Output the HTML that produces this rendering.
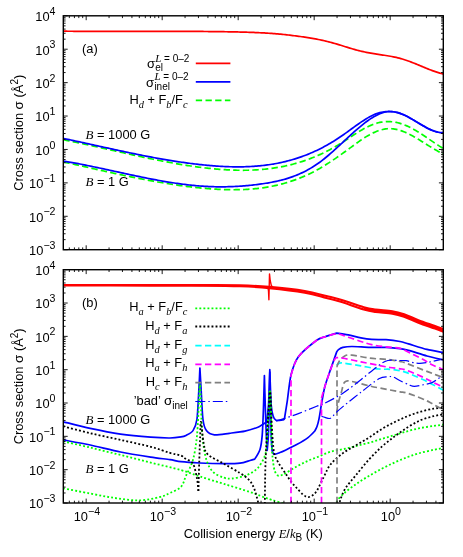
<!DOCTYPE html>
<html><head><meta charset="utf-8"><title>Cross sections</title>
<style>
html,body{margin:0;padding:0;background:#fff;}
body{width:463px;height:557px;overflow:hidden;font-family:"Liberation Sans",sans-serif;}
svg{display:block;will-change:transform;}
text{font-family:"Liberation Sans",sans-serif;fill:#000;}
.it{font-family:"Liberation Serif",serif;font-style:italic;}
.c{fill:none;stroke-linejoin:round;stroke-linecap:butt;}
</style></head><body>
<svg width="463" height="557" viewBox="0 0 463 557">
<rect x="0" y="0" width="463" height="557" fill="#fff"/>
<defs>
<clipPath id="ca"><rect x="63.3" y="15.8" width="380" height="233.9"/></clipPath>
<clipPath id="cb"><rect x="63.3" y="269.7" width="380" height="233.3"/></clipPath>
</defs>

<g clip-path="url(#ca)">
<path class="c" d="M63.3 139.74 L64.8 140.03 L66.3 140.33 L67.8 140.63 L69.3 140.93 L70.8 141.24 L72.3 141.55 L73.8 141.86 L75.3 142.17 L76.8 142.48 L78.3 142.8 L79.8 143.12 L81.3 143.44 L82.8 143.76 L84.3 144.08 L85.8 144.41 L87.3 144.74 L88.8 145.06 L90.3 145.39 L91.8 145.72 L93.3 146.05 L94.8 146.39 L96.3 146.72 L97.8 147.05 L99.3 147.39 L100.8 147.73 L102.3 148.06 L103.8 148.4 L105.3 148.74 L106.8 149.08 L108.3 149.41 L109.8 149.75 L111.3 150.09 L112.8 150.43 L114.3 150.77 L115.8 151.11 L117.3 151.44 L118.8 151.78 L120.3 152.12 L121.8 152.46 L123.3 152.79 L124.8 153.13 L126.3 153.47 L127.8 153.8 L129.3 154.13 L130.8 154.47 L132.3 154.8 L133.8 155.13 L135.3 155.46 L136.8 155.78 L138.3 156.11 L139.8 156.44 L141.3 156.76 L142.8 157.08 L144.3 157.4 L145.8 157.72 L147.3 158.03 L148.8 158.35 L150.3 158.66 L151.8 158.97 L153.3 159.28 L154.8 159.58 L156.3 159.89 L157.8 160.19 L159.3 160.48 L160.8 160.78 L162.3 161.07 L163.8 161.36 L165.3 161.65 L166.8 161.93 L168.3 162.21 L169.8 162.49 L171.3 162.76 L172.8 163.03 L174.3 163.3 L175.8 163.56 L177.3 163.82 L178.8 164.08 L180.3 164.33 L181.8 164.58 L183.3 164.83 L184.8 165.07 L186.3 165.3 L187.8 165.54 L189.3 165.77 L190.8 165.99 L192.3 166.21 L193.8 166.42 L195.3 166.63 L196.8 166.84 L198.3 167.04 L199.8 167.24 L201.3 167.43 L202.8 167.61 L204.3 167.79 L205.8 167.97 L207.3 168.14 L208.8 168.3 L210.3 168.46 L211.8 168.62 L213.3 168.76 L214.8 168.91 L216.3 169.04 L217.8 169.17 L219.3 169.3 L220.8 169.41 L222.3 169.52 L223.8 169.63 L225.3 169.72 L226.8 169.81 L228.3 169.9 L229.8 169.97 L231.3 170.04 L232.8 170.1 L234.3 170.15 L235.8 170.19 L237.3 170.23 L238.8 170.25 L240.3 170.27 L241.8 170.28 L243.3 170.28 L244.8 170.27 L246.3 170.25 L247.8 170.23 L249.3 170.19 L250.8 170.14 L252.3 170.08 L253.8 170.02 L255.3 169.94 L256.8 169.85 L258.3 169.75 L259.8 169.64 L261.3 169.52 L262.8 169.39 L264.3 169.25 L265.8 169.1 L267.3 168.93 L268.8 168.76 L270.3 168.57 L271.8 168.37 L273.3 168.15 L274.8 167.93 L276.3 167.69 L277.8 167.44 L279.3 167.18 L280.8 166.9 L282.3 166.61 L283.8 166.31 L285.3 165.99 L286.8 165.66 L288.3 165.32 L289.8 164.96 L291.3 164.59 L292.8 164.21 L294.3 163.8 L295.8 163.39 L297.3 162.96 L298.8 162.51 L300.3 162.05 L301.8 161.58 L303.3 161.09 L304.8 160.58 L306.3 160.06 L307.8 159.52 L309.3 158.97 L310.8 158.4 L312.3 157.81 L313.8 157.21 L315.3 156.59 L316.8 155.95 L318.3 155.3 L319.8 154.63 L321.3 153.94 L322.8 153.23 L324.3 152.51 L325.8 151.77 L327.3 151.01 L328.8 150.23 L330.3 149.43 L331.8 148.62 L333.3 147.79 L334.8 146.93 L336.3 146.06 L337.8 145.17 L339.3 144.26 L340.8 143.33 L342.3 142.39 L343.8 141.42 L345.3 140.45 L346.8 139.47 L348.3 138.49 L349.8 137.5 L351.3 136.51 L352.8 135.53 L354.3 134.56 L355.8 133.6 L357.3 132.65 L358.8 131.73 L360.3 130.82 L361.8 129.94 L363.3 129.09 L364.8 128.26 L366.3 127.47 L367.8 126.72 L369.3 126.01 L370.8 125.35 L372.3 124.73 L373.8 124.16 L375.3 123.65 L376.8 123.19 L378.3 122.79 L379.8 122.45 L381.3 122.17 L382.8 121.94 L384.3 121.77 L385.8 121.66 L387.3 121.6 L388.8 121.6 L390.3 121.65 L391.8 121.76 L393.3 121.93 L394.8 122.15 L396.3 122.43 L397.8 122.76 L399.3 123.15 L400.8 123.59 L402.3 124.08 L403.8 124.63 L405.3 125.23 L406.8 125.87 L408.3 126.56 L409.8 127.3 L411.3 128.07 L412.8 128.87 L414.3 129.71 L415.8 130.59 L417.3 131.48 L418.8 132.41 L420.3 133.35 L421.8 134.32 L423.3 135.3 L424.8 136.29 L426.3 137.29 L427.8 138.31 L429.3 139.32 L430.8 140.34 L432.3 141.36 L433.8 142.37 L435.3 143.38 L436.8 144.38 L438.3 145.37 L439.8 146.34 L441.3 147.29 L442.8 148.22 L443.3 148.53" stroke="#00ff00" stroke-width="1.7" stroke-dasharray="6.4 3.2"/>
<path class="c" d="M63.3 161.93 L64.8 162.26 L66.3 162.59 L67.8 162.92 L69.3 163.25 L70.8 163.59 L72.3 163.92 L73.8 164.25 L75.3 164.59 L76.8 164.93 L78.3 165.26 L79.8 165.6 L81.3 165.94 L82.8 166.27 L84.3 166.61 L85.8 166.95 L87.3 167.29 L88.8 167.62 L90.3 167.96 L91.8 168.3 L93.3 168.64 L94.8 168.97 L96.3 169.31 L97.8 169.65 L99.3 169.98 L100.8 170.32 L102.3 170.65 L103.8 170.99 L105.3 171.32 L106.8 171.65 L108.3 171.98 L109.8 172.31 L111.3 172.64 L112.8 172.97 L114.3 173.3 L115.8 173.63 L117.3 173.95 L118.8 174.28 L120.3 174.6 L121.8 174.92 L123.3 175.24 L124.8 175.56 L126.3 175.87 L127.8 176.19 L129.3 176.5 L130.8 176.81 L132.3 177.12 L133.8 177.42 L135.3 177.73 L136.8 178.03 L138.3 178.33 L139.8 178.63 L141.3 178.92 L142.8 179.22 L144.3 179.51 L145.8 179.79 L147.3 180.08 L148.8 180.36 L150.3 180.64 L151.8 180.92 L153.3 181.19 L154.8 181.46 L156.3 181.73 L157.8 182 L159.3 182.26 L160.8 182.52 L162.3 182.77 L163.8 183.02 L165.3 183.27 L166.8 183.52 L168.3 183.76 L169.8 184 L171.3 184.23 L172.8 184.46 L174.3 184.69 L175.8 184.91 L177.3 185.13 L178.8 185.34 L180.3 185.55 L181.8 185.76 L183.3 185.96 L184.8 186.16 L186.3 186.35 L187.8 186.54 L189.3 186.73 L190.8 186.91 L192.3 187.08 L193.8 187.25 L195.3 187.42 L196.8 187.58 L198.3 187.74 L199.8 187.89 L201.3 188.03 L202.8 188.17 L204.3 188.31 L205.8 188.44 L207.3 188.56 L208.8 188.68 L210.3 188.8 L211.8 188.91 L213.3 189.01 L214.8 189.11 L216.3 189.2 L217.8 189.28 L219.3 189.36 L220.8 189.43 L222.3 189.5 L223.8 189.55 L225.3 189.6 L226.8 189.64 L228.3 189.68 L229.8 189.71 L231.3 189.72 L232.8 189.73 L234.3 189.73 L235.8 189.72 L237.3 189.71 L238.8 189.68 L240.3 189.64 L241.8 189.6 L243.3 189.54 L244.8 189.48 L246.3 189.4 L247.8 189.31 L249.3 189.21 L250.8 189.1 L252.3 188.98 L253.8 188.85 L255.3 188.71 L256.8 188.55 L258.3 188.38 L259.8 188.2 L261.3 188.01 L262.8 187.81 L264.3 187.59 L265.8 187.36 L267.3 187.11 L268.8 186.85 L270.3 186.58 L271.8 186.29 L273.3 185.99 L274.8 185.67 L276.3 185.34 L277.8 185 L279.3 184.64 L280.8 184.26 L282.3 183.87 L283.8 183.46 L285.3 183.04 L286.8 182.6 L288.3 182.15 L289.8 181.67 L291.3 181.18 L292.8 180.68 L294.3 180.15 L295.8 179.61 L297.3 179.05 L298.8 178.48 L300.3 177.88 L301.8 177.27 L303.3 176.64 L304.8 175.99 L306.3 175.32 L307.8 174.63 L309.3 173.92 L310.8 173.19 L312.3 172.44 L313.8 171.67 L315.3 170.88 L316.8 170.08 L318.3 169.25 L319.8 168.4 L321.3 167.52 L322.8 166.63 L324.3 165.72 L325.8 164.79 L327.3 163.84 L328.8 162.88 L330.3 161.9 L331.8 160.9 L333.3 159.9 L334.8 158.87 L336.3 157.84 L337.8 156.8 L339.3 155.74 L340.8 154.68 L342.3 153.61 L343.8 152.53 L345.3 151.45 L346.8 150.36 L348.3 149.26 L349.8 148.17 L351.3 147.07 L352.8 145.97 L354.3 144.87 L355.8 143.77 L357.3 142.69 L358.8 141.62 L360.3 140.57 L361.8 139.55 L363.3 138.55 L364.8 137.58 L366.3 136.65 L367.8 135.75 L369.3 134.9 L370.8 134.09 L372.3 133.32 L373.8 132.6 L375.3 131.93 L376.8 131.32 L378.3 130.76 L379.8 130.27 L381.3 129.83 L382.8 129.46 L384.3 129.16 L385.8 128.92 L387.3 128.76 L388.8 128.67 L390.3 128.66 L391.8 128.73 L393.3 128.87 L394.8 129.09 L396.3 129.37 L397.8 129.72 L399.3 130.13 L400.8 130.6 L402.3 131.13 L403.8 131.7 L405.3 132.33 L406.8 133 L408.3 133.71 L409.8 134.46 L411.3 135.24 L412.8 136.06 L414.3 136.9 L415.8 137.77 L417.3 138.65 L418.8 139.56 L420.3 140.48 L421.8 141.41 L423.3 142.35 L424.8 143.29 L426.3 144.24 L427.8 145.18 L429.3 146.11 L430.8 147.04 L432.3 147.95 L433.8 148.84 L435.3 149.72 L436.8 150.57 L438.3 151.4 L439.8 152.2 L441.3 152.96 L442.8 153.69 L443.3 153.92" stroke="#00ff00" stroke-width="1.7" stroke-dasharray="6.4 3.2"/>
<path class="c" d="M63.3 138.43 L64.8 138.74 L66.3 139.06 L67.8 139.37 L69.3 139.69 L70.8 140.01 L72.3 140.33 L73.8 140.65 L75.3 140.97 L76.8 141.3 L78.3 141.62 L79.8 141.95 L81.3 142.27 L82.8 142.6 L84.3 142.93 L85.8 143.26 L87.3 143.58 L88.8 143.91 L90.3 144.24 L91.8 144.57 L93.3 144.9 L94.8 145.23 L96.3 145.56 L97.8 145.89 L99.3 146.22 L100.8 146.55 L102.3 146.88 L103.8 147.21 L105.3 147.54 L106.8 147.87 L108.3 148.2 L109.8 148.53 L111.3 148.85 L112.8 149.18 L114.3 149.51 L115.8 149.83 L117.3 150.16 L118.8 150.48 L120.3 150.8 L121.8 151.12 L123.3 151.44 L124.8 151.76 L126.3 152.08 L127.8 152.39 L129.3 152.71 L130.8 153.02 L132.3 153.33 L133.8 153.64 L135.3 153.95 L136.8 154.25 L138.3 154.56 L139.8 154.86 L141.3 155.16 L142.8 155.46 L144.3 155.75 L145.8 156.05 L147.3 156.34 L148.8 156.63 L150.3 156.92 L151.8 157.2 L153.3 157.48 L154.8 157.76 L156.3 158.04 L157.8 158.31 L159.3 158.58 L160.8 158.85 L162.3 159.11 L163.8 159.37 L165.3 159.63 L166.8 159.89 L168.3 160.14 L169.8 160.39 L171.3 160.63 L172.8 160.87 L174.3 161.11 L175.8 161.35 L177.3 161.58 L178.8 161.8 L180.3 162.03 L181.8 162.25 L183.3 162.46 L184.8 162.67 L186.3 162.88 L187.8 163.08 L189.3 163.28 L190.8 163.47 L192.3 163.66 L193.8 163.85 L195.3 164.03 L196.8 164.2 L198.3 164.38 L199.8 164.54 L201.3 164.7 L202.8 164.86 L204.3 165.01 L205.8 165.16 L207.3 165.3 L208.8 165.44 L210.3 165.57 L211.8 165.7 L213.3 165.82 L214.8 165.93 L216.3 166.04 L217.8 166.14 L219.3 166.24 L220.8 166.33 L222.3 166.41 L223.8 166.49 L225.3 166.56 L226.8 166.62 L228.3 166.68 L229.8 166.73 L231.3 166.77 L232.8 166.8 L234.3 166.83 L235.8 166.84 L237.3 166.85 L238.8 166.85 L240.3 166.84 L241.8 166.82 L243.3 166.79 L244.8 166.76 L246.3 166.71 L247.8 166.65 L249.3 166.59 L250.8 166.51 L252.3 166.43 L253.8 166.33 L255.3 166.22 L256.8 166.1 L258.3 165.97 L259.8 165.83 L261.3 165.68 L262.8 165.52 L264.3 165.34 L265.8 165.16 L267.3 164.96 L268.8 164.75 L270.3 164.52 L271.8 164.28 L273.3 164.04 L274.8 163.77 L276.3 163.5 L277.8 163.21 L279.3 162.91 L280.8 162.59 L282.3 162.26 L283.8 161.92 L285.3 161.56 L286.8 161.18 L288.3 160.8 L289.8 160.39 L291.3 159.98 L292.8 159.54 L294.3 159.09 L295.8 158.63 L297.3 158.15 L298.8 157.65 L300.3 157.14 L301.8 156.62 L303.3 156.07 L304.8 155.51 L306.3 154.93 L307.8 154.34 L309.3 153.72 L310.8 153.09 L312.3 152.45 L313.8 151.78 L315.3 151.1 L316.8 150.4 L318.3 149.68 L319.8 148.94 L321.3 148.18 L322.8 147.4 L324.3 146.61 L325.8 145.79 L327.3 144.96 L328.8 144.11 L330.3 143.23 L331.8 142.34 L333.3 141.43 L334.8 140.49 L336.3 139.54 L337.8 138.56 L339.3 137.57 L340.8 136.55 L342.3 135.51 L343.8 134.46 L345.3 133.39 L346.8 132.32 L348.3 131.23 L349.8 130.14 L351.3 129.05 L352.8 127.97 L354.3 126.88 L355.8 125.81 L357.3 124.75 L358.8 123.7 L360.3 122.66 L361.8 121.65 L363.3 120.67 L364.8 119.7 L366.3 118.77 L367.8 117.88 L369.3 117.03 L370.8 116.22 L372.3 115.47 L373.8 114.77 L375.3 114.13 L376.8 113.56 L378.3 113.06 L379.8 112.63 L381.3 112.26 L382.8 111.97 L384.3 111.74 L385.8 111.57 L387.3 111.48 L388.8 111.45 L390.3 111.49 L391.8 111.59 L393.3 111.77 L394.8 112.01 L396.3 112.31 L397.8 112.69 L399.3 113.13 L400.8 113.63 L402.3 114.2 L403.8 114.84 L405.3 115.53 L406.8 116.27 L408.3 117.06 L409.8 117.89 L411.3 118.75 L412.8 119.63 L414.3 120.53 L415.8 121.45 L417.3 122.37 L418.8 123.29 L420.3 124.2 L421.8 125.1 L423.3 125.98 L424.8 126.84 L426.3 127.66 L427.8 128.44 L429.3 129.18 L430.8 129.86 L432.3 130.49 L433.8 131.05 L435.3 131.53 L436.8 131.95 L438.3 132.27 L439.8 132.51 L441.3 132.65 L442.8 132.68 L443.3 132.67" stroke="#0000ff" stroke-width="1.7"/>
<path class="c" d="M63.3 161.06 L64.8 161.31 L66.3 161.56 L67.8 161.81 L69.3 162.07 L70.8 162.34 L72.3 162.6 L73.8 162.88 L75.3 163.15 L76.8 163.43 L78.3 163.71 L79.8 164 L81.3 164.29 L82.8 164.58 L84.3 164.88 L85.8 165.17 L87.3 165.48 L88.8 165.78 L90.3 166.09 L91.8 166.39 L93.3 166.71 L94.8 167.02 L96.3 167.33 L97.8 167.65 L99.3 167.97 L100.8 168.29 L102.3 168.61 L103.8 168.93 L105.3 169.26 L106.8 169.58 L108.3 169.91 L109.8 170.23 L111.3 170.56 L112.8 170.89 L114.3 171.21 L115.8 171.54 L117.3 171.87 L118.8 172.2 L120.3 172.53 L121.8 172.85 L123.3 173.18 L124.8 173.5 L126.3 173.83 L127.8 174.15 L129.3 174.48 L130.8 174.8 L132.3 175.12 L133.8 175.44 L135.3 175.76 L136.8 176.07 L138.3 176.39 L139.8 176.7 L141.3 177.01 L142.8 177.32 L144.3 177.62 L145.8 177.93 L147.3 178.23 L148.8 178.52 L150.3 178.82 L151.8 179.11 L153.3 179.4 L154.8 179.68 L156.3 179.96 L157.8 180.24 L159.3 180.51 L160.8 180.78 L162.3 181.05 L163.8 181.31 L165.3 181.57 L166.8 181.82 L168.3 182.07 L169.8 182.31 L171.3 182.55 L172.8 182.78 L174.3 183.01 L175.8 183.24 L177.3 183.45 L178.8 183.67 L180.3 183.87 L181.8 184.07 L183.3 184.27 L184.8 184.46 L186.3 184.64 L187.8 184.82 L189.3 184.99 L190.8 185.15 L192.3 185.31 L193.8 185.46 L195.3 185.6 L196.8 185.73 L198.3 185.86 L199.8 185.98 L201.3 186.09 L202.8 186.2 L204.3 186.3 L205.8 186.39 L207.3 186.47 L208.8 186.54 L210.3 186.61 L211.8 186.66 L213.3 186.71 L214.8 186.75 L216.3 186.78 L217.8 186.8 L219.3 186.82 L220.8 186.82 L222.3 186.82 L223.8 186.81 L225.3 186.79 L226.8 186.76 L228.3 186.72 L229.8 186.68 L231.3 186.63 L232.8 186.57 L234.3 186.5 L235.8 186.43 L237.3 186.34 L238.8 186.25 L240.3 186.15 L241.8 186.04 L243.3 185.93 L244.8 185.8 L246.3 185.67 L247.8 185.54 L249.3 185.39 L250.8 185.24 L252.3 185.08 L253.8 184.91 L255.3 184.73 L256.8 184.55 L258.3 184.36 L259.8 184.16 L261.3 183.95 L262.8 183.74 L264.3 183.52 L265.8 183.28 L267.3 183.04 L268.8 182.79 L270.3 182.52 L271.8 182.24 L273.3 181.95 L274.8 181.65 L276.3 181.33 L277.8 180.99 L279.3 180.64 L280.8 180.27 L282.3 179.89 L283.8 179.48 L285.3 179.06 L286.8 178.61 L288.3 178.14 L289.8 177.66 L291.3 177.15 L292.8 176.61 L294.3 176.06 L295.8 175.48 L297.3 174.87 L298.8 174.23 L300.3 173.57 L301.8 172.89 L303.3 172.17 L304.8 171.42 L306.3 170.65 L307.8 169.84 L309.3 169 L310.8 168.13 L312.3 167.23 L313.8 166.29 L315.3 165.32 L316.8 164.31 L318.3 163.27 L319.8 162.19 L321.3 161.07 L322.8 159.92 L324.3 158.73 L325.8 157.52 L327.3 156.27 L328.8 155 L330.3 153.7 L331.8 152.39 L333.3 151.05 L334.8 149.7 L336.3 148.34 L337.8 146.96 L339.3 145.57 L340.8 144.18 L342.3 142.78 L343.8 141.38 L345.3 139.98 L346.8 138.59 L348.3 137.2 L349.8 135.81 L351.3 134.44 L352.8 133.08 L354.3 131.74 L355.8 130.41 L357.3 129.1 L358.8 127.81 L360.3 126.55 L361.8 125.32 L363.3 124.11 L364.8 122.94 L366.3 121.8 L367.8 120.7 L369.3 119.64 L370.8 118.63 L372.3 117.67 L373.8 116.77 L375.3 115.92 L376.8 115.14 L378.3 114.42 L379.8 113.77 L381.3 113.2 L382.8 112.71 L384.3 112.29 L385.8 111.96 L387.3 111.73 L388.8 111.58 L390.3 111.54 L391.8 111.59 L393.3 111.73 L394.8 111.97 L396.3 112.28 L397.8 112.67 L399.3 113.14 L400.8 113.67 L402.3 114.26 L403.8 114.9 L405.3 115.6 L406.8 116.34 L408.3 117.11 L409.8 117.92 L411.3 118.76 L412.8 119.62 L414.3 120.49 L415.8 121.38 L417.3 122.27 L418.8 123.16 L420.3 124.04 L421.8 124.92 L423.3 125.77 L424.8 126.61 L426.3 127.41 L427.8 128.19 L429.3 128.92 L430.8 129.61 L432.3 130.25 L433.8 130.84 L435.3 131.36 L436.8 131.82 L438.3 132.21 L439.8 132.52 L441.3 132.75 L442.8 132.89 L443.3 132.91" stroke="#0000ff" stroke-width="1.7"/>
<path class="c" d="M63.3 31.2 L64.8 31.21 L66.3 31.22 L67.8 31.23 L69.3 31.25 L70.8 31.26 L72.3 31.27 L73.8 31.28 L75.3 31.28 L76.8 31.29 L78.3 31.3 L79.8 31.31 L81.3 31.31 L82.8 31.32 L84.3 31.32 L85.8 31.33 L87.3 31.33 L88.8 31.34 L90.3 31.34 L91.8 31.35 L93.3 31.35 L94.8 31.35 L96.3 31.35 L97.8 31.36 L99.3 31.36 L100.8 31.36 L102.3 31.36 L103.8 31.36 L105.3 31.36 L106.8 31.36 L108.3 31.36 L109.8 31.36 L111.3 31.36 L112.8 31.36 L114.3 31.36 L115.8 31.36 L117.3 31.36 L118.8 31.36 L120.3 31.35 L121.8 31.35 L123.3 31.35 L124.8 31.35 L126.3 31.35 L127.8 31.35 L129.3 31.34 L130.8 31.34 L132.3 31.34 L133.8 31.34 L135.3 31.34 L136.8 31.33 L138.3 31.33 L139.8 31.33 L141.3 31.33 L142.8 31.33 L144.3 31.32 L145.8 31.32 L147.3 31.32 L148.8 31.32 L150.3 31.32 L151.8 31.32 L153.3 31.32 L154.8 31.31 L156.3 31.31 L157.8 31.31 L159.3 31.31 L160.8 31.31 L162.3 31.31 L163.8 31.31 L165.3 31.32 L166.8 31.32 L168.3 31.32 L169.8 31.32 L171.3 31.32 L172.8 31.33 L174.3 31.33 L175.8 31.33 L177.3 31.34 L178.8 31.34 L180.3 31.34 L181.8 31.35 L183.3 31.35 L184.8 31.36 L186.3 31.37 L187.8 31.37 L189.3 31.38 L190.8 31.39 L192.3 31.4 L193.8 31.41 L195.3 31.42 L196.8 31.43 L198.3 31.44 L199.8 31.45 L201.3 31.46 L202.8 31.47 L204.3 31.49 L205.8 31.5 L207.3 31.51 L208.8 31.53 L210.3 31.55 L211.8 31.56 L213.3 31.58 L214.8 31.6 L216.3 31.62 L217.8 31.64 L219.3 31.66 L220.8 31.68 L222.3 31.7 L223.8 31.72 L225.3 31.75 L226.8 31.77 L228.3 31.8 L229.8 31.82 L231.3 31.85 L232.8 31.88 L234.3 31.91 L235.8 31.94 L237.3 31.97 L238.8 32 L240.3 32.04 L241.8 32.08 L243.3 32.12 L244.8 32.16 L246.3 32.2 L247.8 32.25 L249.3 32.3 L250.8 32.35 L252.3 32.41 L253.8 32.47 L255.3 32.53 L256.8 32.59 L258.3 32.66 L259.8 32.73 L261.3 32.81 L262.8 32.89 L264.3 32.97 L265.8 33.06 L267.3 33.16 L268.8 33.25 L270.3 33.36 L271.8 33.46 L273.3 33.58 L274.8 33.69 L276.3 33.82 L277.8 33.95 L279.3 34.08 L280.8 34.22 L282.3 34.37 L283.8 34.52 L285.3 34.67 L286.8 34.84 L288.3 35 L289.8 35.17 L291.3 35.35 L292.8 35.54 L294.3 35.72 L295.8 35.92 L297.3 36.12 L298.8 36.32 L300.3 36.53 L301.8 36.74 L303.3 36.96 L304.8 37.18 L306.3 37.41 L307.8 37.65 L309.3 37.89 L310.8 38.13 L312.3 38.39 L313.8 38.65 L315.3 38.92 L316.8 39.2 L318.3 39.49 L319.8 39.79 L321.3 40.1 L322.8 40.42 L324.3 40.76 L325.8 41.1 L327.3 41.47 L328.8 41.84 L330.3 42.23 L331.8 42.64 L333.3 43.06 L334.8 43.49 L336.3 43.93 L337.8 44.38 L339.3 44.84 L340.8 45.3 L342.3 45.76 L343.8 46.23 L345.3 46.7 L346.8 47.16 L348.3 47.62 L349.8 48.08 L351.3 48.53 L352.8 48.97 L354.3 49.4 L355.8 49.82 L357.3 50.22 L358.8 50.61 L360.3 50.99 L361.8 51.35 L363.3 51.7 L364.8 52.03 L366.3 52.35 L367.8 52.65 L369.3 52.93 L370.8 53.2 L372.3 53.45 L373.8 53.69 L375.3 53.93 L376.8 54.15 L378.3 54.38 L379.8 54.59 L381.3 54.81 L382.8 55.04 L384.3 55.26 L385.8 55.49 L387.3 55.73 L388.8 55.98 L390.3 56.24 L391.8 56.52 L393.3 56.81 L394.8 57.12 L396.3 57.45 L397.8 57.8 L399.3 58.17 L400.8 58.57 L402.3 59 L403.8 59.46 L405.3 59.94 L406.8 60.45 L408.3 60.98 L409.8 61.53 L411.3 62.1 L412.8 62.69 L414.3 63.29 L415.8 63.9 L417.3 64.52 L418.8 65.14 L420.3 65.76 L421.8 66.39 L423.3 67.01 L424.8 67.64 L426.3 68.25 L427.8 68.85 L429.3 69.45 L430.8 70.02 L432.3 70.59 L433.8 71.13 L435.3 71.65 L436.8 72.15 L438.3 72.62 L439.8 73.06 L441.3 73.47 L442.8 73.84 L443.3 73.96" stroke="#ff0000" stroke-width="1.7"/>
</g>
<g clip-path="url(#cb)">
<path class="c" d="M63.3 421.8 C66.89 422.68 82.57 426.76 90.2 428.4 C97.83 430.04 112.43 432.93 120.5 434.1 C128.57 435.27 144.1 436.68 150.7 437.2 C157.3 437.72 165.96 438.04 170 438 C174.04 437.96 178.87 437.25 181 436.9 C183.13 436.55 184.4 436.24 186 435.4 C187.6 434.56 191.53 432.79 193 430.6 C194.47 428.41 196.2 424.81 197 419 C197.8 413.19 198.61 393.8 199 387 C199.39 380.2 199.9 368 199.9 368 C199.9 368 200.6 380.2 201 387 C201.4 393.8 202.18 413.19 202.9 419 C203.62 424.81 204.87 428.48 206.4 430.6 C207.93 432.72 211.35 434.54 214.4 434.9 C217.45 435.26 225.22 433.81 229.3 433.3 C233.38 432.79 241.19 431.91 245 431.1 C248.81 430.29 255.61 428.05 257.9 427.2 C260.19 426.35 261.05 425.39 262.2 424.7 C263.35 424.01 266.5 422 266.5 422 C266.5 422 268.06 411.97 268.5 405 C268.94 398.03 269.8 369.7 269.8 369.7 C269.8 369.7 270.76 398.83 271.2 405 C271.64 411.17 272.46 413.96 273.1 416 C273.74 418.04 274.65 419.79 276 420.3 C277.35 420.81 282.08 419.97 283.2 419.8 C284.32 419.63 284.4 419 284.4 419 C284.4 419 286.42 406.67 287.3 400.8 C288.18 394.93 289.52 380.88 291 375 C292.48 369.12 294.97 361.34 298.4 356.7 C301.83 352.06 313.15 342.87 316.7 340.2 C320.25 337.53 322.33 337.65 325 336.7 C327.67 335.75 336.7 333.1 336.7 333.1 C336.7 333.1 345.07 334.26 348.3 334.9 C351.53 335.54 357.78 337.3 360.9 337.9 C364.02 338.5 368.35 339.16 371.7 339.4 C375.05 339.64 382.23 339.42 386 339.7 C389.77 339.98 397 340.94 400 341.5 C403 342.06 404.91 342.85 408.5 343.9 C412.09 344.95 422.25 348.24 426.9 349.4 C431.55 350.56 441.2 352.17 443.4 352.6" stroke="#0000ff" stroke-width="1.7"/>
<path class="c" d="M63.3 439.9 C66.89 440.58 82.57 443.39 90.2 445 C97.83 446.61 112.43 450.39 120.5 452 C128.57 453.61 144.1 456.07 150.7 457.1 C157.3 458.13 165.96 459.09 170 459.7 C174.04 460.31 177.05 461.26 181 461.7 C184.95 462.14 193.88 462.73 199.6 463 C205.32 463.27 218.51 463.67 223.9 463.7 C229.29 463.73 236.52 463.63 240 463.2 C243.48 462.77 248.04 461.05 250 460.5 C251.96 459.95 254.7 459.1 254.7 459.1 C254.7 459.1 259 452.56 260 449.4 C261 446.24 261.75 440.65 262.2 435.4 C262.65 430.15 263.11 417.99 263.4 410 C263.69 402.01 264.4 375.5 264.4 375.5 C264.4 375.5 265.15 402.07 265.4 410 C265.65 417.93 266.06 429.6 266.3 435 C266.54 440.4 267.2 450.5 267.2 450.5 C267.2 450.5 268.25 440.47 268.6 430 C268.95 419.53 269.8 372 269.8 372 C269.8 372 270.71 419.6 271 430 C271.29 440.4 272 450 272 450 C272 450 272.93 453.87 274 454.2 C275.07 454.53 278.48 453.03 280 452.5 C281.52 451.97 283.17 451.25 285.4 450.2 C287.63 449.15 293.69 446.28 296.7 444.6 C299.71 442.92 305.59 439.41 308 437.6 C310.41 435.79 314.8 431 314.8 431 C314.8 431 316.44 428.11 317 426.5 C317.56 424.89 318.35 422.21 319 418.9 C319.65 415.59 321.1 406.09 321.9 401.7 C322.7 397.31 323.87 390.24 325 386 C326.13 381.76 328.84 374.45 330.4 369.9 C331.96 365.35 336.7 351.9 336.7 351.9 C336.7 351.9 337.67 350.2 338.5 349.6 C339.33 349 341.11 347.81 342.9 347.4 C344.69 346.99 348.3 346.5 351.9 346.5 C355.5 346.5 365.35 347.28 369.9 347.4 C374.45 347.52 381.99 347.23 386 347.4 C390.01 347.57 397 348.3 400 348.7 C403 349.1 404.91 349.43 408.5 350.4 C412.09 351.37 422.25 354.73 426.9 356 C431.55 357.27 441.2 359.38 443.4 359.9" stroke="#0000ff" stroke-width="1.7"/>
<path class="c" d="M63.3 284.95 C77.75 284.96 127.22 284.99 150 285.02 C172.78 285.04 185 285.05 200 285.1 C215 285.15 228.47 285 240 285.3 C251.53 285.6 258.4 285.94 269.2 286.89 C280 287.84 295.27 289.46 304.8 290.98 C314.33 292.5 320.53 294.62 326.4 296.03 C332.27 297.44 333.77 297.58 340 299.43 C346.23 301.29 357.87 305.47 363.8 307.15 C369.73 308.83 370.85 308.85 375.6 309.52 C380.35 310.19 387.55 310.38 392.3 311.17 C397.05 311.96 399.75 312.75 404.1 314.25 C408.45 315.74 413.25 318.17 418.4 320.13 C423.55 322.09 430.85 324.51 435 326.01 C439.15 327.5 441.92 328.59 443.3 329.1" stroke="#ff0000" stroke-width="2.1"/>
<path class="c" d="M63.3 285.45 C77.75 285.47 127.22 285.54 150 285.58 C172.78 285.62 185 285.58 200 285.7 C215 285.82 228.47 285.9 240 286.3 C251.53 286.7 258.4 287.06 269.2 288.11 C280 289.16 295.27 290.98 304.8 292.62 C314.33 294.27 320.53 296.48 326.4 297.97 C332.27 299.46 333.77 299.65 340 301.57 C346.23 303.48 357.87 307.73 363.8 309.45 C369.73 311.17 370.85 311.19 375.6 311.88 C380.35 312.58 387.55 312.82 392.3 313.63 C397.05 314.44 399.75 315.25 404.1 316.75 C408.45 318.26 413.25 320.7 418.4 322.67 C423.55 324.64 430.85 327.09 435 328.59 C439.15 330.1 441.92 331.18 443.3 331.7" stroke="#ff0000" stroke-width="2.1"/>
<path class="c" d="M363.8 308.3 C365.77 308.7 370.85 310.02 375.6 310.7 C380.35 311.38 387.55 311.6 392.3 312.4 C397.05 313.2 399.75 314 404.1 315.5 C408.45 317 413.25 319.43 418.4 321.4 C423.55 323.37 430.85 325.8 435 327.3 C439.15 328.8 441.92 329.88 443.3 330.4" stroke="#ff0000" stroke-width="2.2"/>
<path class="c" d="M265.5 287 L268 287.6 L268.5 291 L268.9 299.8 L269.2 287 L269.5 273.9 L270.2 280.5 L271.3 285.3 L272.8 287.4 L274.5 288.1" stroke="#ff0000" stroke-width="1.4"/>
<path class="c" d="M63.3 441.4 C67.78 442.42 80.67 445.23 90.2 447.5 C99.73 449.77 110.42 452.48 120.5 455 C130.58 457.52 140.62 460.08 150.7 462.6 C160.78 465.12 172.85 467.8 181 470.1 C189.15 472.4 192.45 474.1 199.6 476.4 C206.75 478.7 215.5 481.3 223.9 483.9 C232.3 486.5 243.65 489.9 250 492 C256.35 494.1 258.33 495.17 262 496.5 C265.67 497.83 268.17 498.75 272 500 C275.83 501.25 282.83 503.33 285 504" stroke="#00ff00" stroke-width="1.8" stroke-dasharray="1.9 2.15"/>
<path class="c" d="M63.3 488.3 C67.75 489.17 81.38 491.88 90 493.5 C98.62 495.12 106.9 496.85 115 498 C123.1 499.15 131.1 500.57 138.6 500.4 C146.1 500.23 154.77 498.23 160 497 C165.23 495.77 166.5 494.7 170 493 C173.5 491.3 178.33 489.67 181 486.8 C183.67 483.93 184 480.32 186 475.8 C188 471.28 191.17 466.43 193 459.7 C194.83 452.97 196 445.35 197 435.4 C198 425.45 198.52 408.75 199 400 C199.48 391.25 199.6 382.9 199.9 382.9 C200.2 382.9 200.4 391.25 200.8 400 C201.2 408.75 201.37 425.45 202.3 435.4 C203.23 445.35 204.62 453.63 206.4 459.7 C208.18 465.77 210.08 468.8 213 471.8 C215.92 474.8 220.73 476.58 223.9 477.7 C227.07 478.82 228.87 478.72 232 478.5 C235.13 478.28 239.7 477.23 242.7 476.4 C245.7 475.57 247.45 474.93 250 473.5 C252.55 472.07 255.6 470.55 258 467.8 C260.4 465.05 262.98 460.63 264.4 457 C265.82 453.37 265.82 453 266.5 446 C267.18 439 267.95 424.33 268.5 415 C269.05 405.67 269.38 390 269.8 390 C270.22 390 270.68 405.67 271 415 C271.32 424.33 271.2 437.17 271.7 446 C272.2 454.83 273.05 463.15 274 468 C274.95 472.85 276.23 473.88 277.4 475.1 C278.57 476.32 279.67 475.6 281 475.3 C282.33 475 282.78 474.77 285.4 473.3 C288.02 471.83 292.93 468.58 296.7 466.5 C300.47 464.42 304.22 462.5 308 460.8 C311.78 459.1 315.62 457.82 319.4 456.3 C323.18 454.78 326.77 452.88 330.7 451.7 C334.63 450.52 338.8 450.13 343 449.2 C347.2 448.27 351.58 447.17 355.9 446.1 C360.22 445.03 364.58 444 368.9 442.8 C373.22 441.6 377.48 440.2 381.8 438.9 C386.12 437.6 390.47 436.3 394.8 435 C399.13 433.7 403.48 432.27 407.8 431.1 C412.12 429.93 416.38 428.87 420.7 428 C425.02 427.13 429.93 426.47 433.7 425.9 C437.47 425.33 441.7 424.82 443.3 424.6" stroke="#00ff00" stroke-width="1.8" stroke-dasharray="1.9 2.15"/>
<path class="c" d="M335.5 506 C335.88 504.97 336.22 502.05 337.8 499.8 C339.38 497.55 341.98 495.1 345 492.5 C348.02 489.9 352.07 486.87 355.9 484.2 C359.73 481.53 363.68 479.08 368 476.5 C372.32 473.92 377.3 471.07 381.8 468.7 C386.3 466.33 390.67 464.25 395 462.3 C399.33 460.35 403.63 458.55 407.8 457 C411.97 455.45 415.68 454.2 420 453 C424.32 451.8 429.82 450.63 433.7 449.8 C437.58 448.97 441.7 448.3 443.3 448" stroke="#00ff00" stroke-width="1.8" stroke-dasharray="1.9 2.15"/>
<path class="c" d="M63.3 426.3 C67.78 427.45 80.67 430.93 90.2 433.2 C99.73 435.47 110.42 437.63 120.5 439.9 C130.58 442.17 142.45 444.63 150.7 446.8 C158.95 448.97 164.95 451.43 170 452.9 C175.05 454.37 178.33 454.57 181 455.6 C183.67 456.63 184 457.75 186 459.1 C188 460.45 191.17 460.47 193 463.7 C194.83 466.93 196.1 473.95 197 478.5 C197.9 483.05 198.17 488.92 198.4 491" stroke="#000000" stroke-width="1.8" stroke-dasharray="1.9 2.15"/>
<path class="c" d="M198.4 491 C198.55 485.83 199 469.17 199.3 460 C199.6 450.83 199.92 442.33 200.2 436 C200.48 429.67 200.42 420.75 201 422 C201.58 423.25 202.58 438.12 203.7 443.5 C204.82 448.88 204.33 450.93 207.7 454.3 C211.07 457.67 218.52 460.57 223.9 463.7 C229.28 466.83 235.82 470.4 240 473.1 C244.18 475.8 246.75 477.58 249 479.9 C251.25 482.22 252.25 484.32 253.5 487 C254.75 489.68 255.58 492.83 256.5 496 C257.42 499.17 258.58 504.33 259 506" stroke="#000000" stroke-width="1.8" stroke-dasharray="1.9 2.15"/>
<path class="c" d="M264.7 520 C264.8 511.67 264.98 483.33 265.3 470 C265.62 456.67 266.05 450 266.6 440 C267.15 430 268 418 268.6 410 C269.2 402 269.63 388.83 270.2 392 C270.77 395.17 271.37 419 272 429 C272.63 439 273 446.5 274 452 C275 457.5 276.1 458.45 278 462 C279.9 465.55 283.23 470.05 285.4 473.3 C287.57 476.55 289.12 479.05 291 481.5 C292.88 483.95 294.7 485.83 296.7 488 C298.7 490.17 301.12 492.98 303 494.5 C304.88 496.02 306.33 497.02 308 497.1 C309.67 497.18 311.48 496.13 313 495 C314.52 493.87 315.28 493.35 317.1 490.3 C318.92 487.25 321.63 481.05 323.9 476.7 C326.17 472.35 327.52 468.13 330.7 464.2 C333.88 460.27 338.8 456.23 343 453.1 C347.2 449.97 351.58 447.98 355.9 445.4 C360.22 442.82 364.58 440.33 368.9 437.6 C373.22 434.87 377.48 431.6 381.8 429 C386.12 426.4 390.47 424.15 394.8 422 C399.13 419.85 403.48 417.82 407.8 416.1 C412.12 414.38 416.38 412.95 420.7 411.7 C425.02 410.45 429.93 409.25 433.7 408.6 C437.47 407.95 441.7 407.93 443.3 407.8" stroke="#000000" stroke-width="1.8" stroke-dasharray="1.9 2.15"/>
<path class="c" d="M338 510 C338.4 508.3 339.13 503.45 340.4 499.8 C341.67 496.15 343.02 492.2 345.6 488.1 C348.18 484 352.02 479.95 355.9 475.2 C359.78 470.45 364.58 464.35 368.9 459.6 C373.22 454.85 377.48 450.58 381.8 446.7 C386.12 442.82 390.47 439.55 394.8 436.3 C399.13 433.05 403.48 429.88 407.8 427.2 C412.12 424.52 416.38 422.05 420.7 420.2 C425.02 418.35 429.93 417.08 433.7 416.1 C437.47 415.12 441.7 414.6 443.3 414.3" stroke="#000000" stroke-width="1.8" stroke-dasharray="1.9 2.15"/>
<path class="c" d="M336.7 365.4 C337 365.1 337.47 364 338.5 363.6 C339.53 363.2 339.17 362.62 342.9 363 C346.63 363.38 354.92 364.9 360.9 365.9 C366.88 366.9 373.95 368.43 378.8 369 C383.65 369.57 386.47 369 390 369.3 C393.53 369.6 397.3 370.28 400 370.8 C402.7 371.32 402.48 370.98 406.2 372.4 C409.92 373.82 418 377.33 422.3 379.3 C426.6 381.27 428.48 382.38 432 384.2 C435.52 386.02 441.5 389.2 443.4 390.2" stroke="#00ffff" stroke-width="1.7" stroke-dasharray="6.3 3.4"/>
<path class="c" d="M337 366.3 C337.4 365.4 338.12 362.63 339.4 360.9 C340.68 359.17 342.62 356.87 344.7 355.9 C346.78 354.93 347.7 354.72 351.9 355.1 C356.1 355.48 363.92 357.47 369.9 358.2 C375.88 358.93 382.78 358.95 387.8 359.5 C392.82 360.05 396.93 360.88 400 361.5 C403.07 362.12 402.48 361.85 406.2 363.2 C409.92 364.55 418 367.92 422.3 369.6 C426.6 371.28 428.48 371.95 432 373.3 C435.52 374.65 441.5 376.97 443.4 377.7" stroke="#808080" stroke-width="1.7" stroke-dasharray="6.3 3.4"/>
<path class="c" d="M337 503 L337 366.3" stroke="#808080" stroke-width="1.7" stroke-dasharray="6.3 3.4"/>
<path class="c" d="M337.2 412 C337.27 410.95 336.95 408.83 337.6 405.7 C338.25 402.57 339.92 397.13 341.1 393.2 C342.28 389.27 342.9 384.05 344.7 382.1 C346.5 380.15 347.7 380.85 351.9 381.5 C356.1 382.15 363.92 384.65 369.9 386 C375.88 387.35 382.78 388.63 387.8 389.6 C392.82 390.57 396.93 391.27 400 391.8 C403.07 392.33 402.48 391.65 406.2 392.8 C409.92 393.95 418 396.9 422.3 398.7 C426.6 400.5 428.48 401.72 432 403.6 C435.52 405.48 441.5 408.93 443.4 410" stroke="#808080" stroke-width="1.7" stroke-dasharray="6.3 3.4"/>
<path class="c" d="M276 421 C276.67 420.82 276.27 421.13 280 419.9 C283.73 418.67 292.28 415.87 298.4 413.6 C304.52 411.33 312.27 408.05 316.7 406.3 C321.13 404.55 320.63 405.28 325 403.1 C329.37 400.92 336.92 397.1 342.9 393.2 C348.88 389.3 354.92 384.33 360.9 379.7 C366.88 375.07 374.32 368.6 378.8 365.4 C383.28 362.2 384.27 361.32 387.8 360.5 C391.33 359.68 396.93 360.47 400 360.5 C403.07 360.53 403.82 360.32 406.2 360.7 C408.58 361.08 411.62 362.38 414.3 362.8 C416.98 363.22 419.35 363.42 422.3 363.2 C425.25 362.98 428.48 362.2 432 361.5 C435.52 360.8 441.5 359.42 443.4 359" stroke="#0000ff" stroke-width="1.2" stroke-dasharray="10 3 1.5 3"/>
<path class="c" d="M321.5 416.2 C322.08 416.4 323.52 417.05 325 417.4 C326.48 417.75 328.6 419.05 330.4 418.3 C332.2 417.55 333.72 414.85 335.8 412.9 C337.88 410.95 338.72 410.03 342.9 406.6 C347.08 403.17 354.92 396.93 360.9 392.3 C366.88 387.67 374.32 381.4 378.8 378.8 C383.28 376.2 385.4 377 387.8 376.7 C390.2 376.4 391.22 376.37 393.2 377 C395.18 377.63 397 379.17 399.7 380.5 C402.4 381.83 406.97 384.03 409.4 385 C411.83 385.97 412.15 386.3 414.3 386.3 C416.45 386.3 419.35 385.62 422.3 385 C425.25 384.38 429.3 383.68 432 382.6 C434.7 381.52 436.6 379.6 438.5 378.5 C440.4 377.4 442.58 376.42 443.4 376" stroke="#0000ff" stroke-width="1.2" stroke-dasharray="10 3 1.5 3"/>
<path class="c" d="M291 503 L291 375" stroke="#ff00ff" stroke-width="1.7" stroke-dasharray="6.3 3.4"/>
<path class="c" d="M291 375 C292.23 371.95 294.12 362.5 298.4 356.7 C302.68 350.9 312.27 343.5 316.7 340.2 C321.13 336.9 321.67 337.97 325 336.9 C328.33 335.83 332.82 333.75 336.7 333.8 C340.58 333.85 344.27 335.92 348.3 337.2 C352.33 338.48 357 340.25 360.9 341.5 C364.8 342.75 367.52 343.8 371.7 344.7 C375.88 345.6 381.28 346.3 386 346.9 C390.72 347.5 396.63 347.62 400 348.3 C403.37 348.98 402.48 349.2 406.2 351 C409.92 352.8 418 356.8 422.3 359.1 C426.6 361.4 428.48 363.05 432 364.8 C435.52 366.55 441.5 368.8 443.4 369.6" stroke="#ff00ff" stroke-width="1.7" stroke-dasharray="6.3 3.4"/>
<path class="c" d="M321.5 503 L321.5 398" stroke="#ff00ff" stroke-width="1.7" stroke-dasharray="6.3 3.4"/>
<path class="c" d="M321.5 398 C322.08 396 323.52 390.68 325 386 C326.48 381.32 328.75 374.38 330.4 369.9 C332.05 365.42 333.72 361.15 334.9 359.1 C336.08 357.05 336.17 357.75 337.5 357.6 C338.83 357.45 339 357.5 342.9 358.2 C346.8 358.9 354.92 360.6 360.9 361.8 C366.88 363 373.95 364.45 378.8 365.4 C383.65 366.35 386.47 366.93 390 367.5 C393.53 368.07 397.3 368.37 400 368.8 C402.7 369.23 402.48 368.75 406.2 370.1 C409.92 371.45 418 374.95 422.3 376.9 C426.6 378.85 428.48 380.05 432 381.8 C435.52 383.55 441.5 386.47 443.4 387.4" stroke="#ff00ff" stroke-width="1.7" stroke-dasharray="6.3 3.4"/>
</g>
<path class="c" d="M195.8 63.3 H230.4" stroke="#ff0000" stroke-width="1.7"/>
<path class="c" d="M195.8 81.8 H230.4" stroke="#0000ff" stroke-width="1.7"/>
<path class="c" d="M195.8 100.3 H230.4" stroke="#00ff00" stroke-width="1.7" stroke-dasharray="6.3 3.4"/>
<path class="c" d="M195.3 308.3 H230" stroke="#00ff00" stroke-width="1.8" stroke-dasharray="1.9 2.15"/>
<path class="c" d="M195.3 326.5 H230" stroke="#000000" stroke-width="1.8" stroke-dasharray="1.9 2.15"/>
<path class="c" d="M195.3 345.6 H230" stroke="#00ffff" stroke-width="1.7" stroke-dasharray="6.3 3.4"/>
<path class="c" d="M195.3 364.4 H230" stroke="#ff00ff" stroke-width="1.7" stroke-dasharray="6.3 3.4"/>
<path class="c" d="M195.3 382.7 H230" stroke="#808080" stroke-width="1.7" stroke-dasharray="6.3 3.4"/>
<path class="c" d="M195.3 401.5 H230" stroke="#0000ff" stroke-width="1.2" stroke-dasharray="10 3 1.5 3"/>
<text x="146.9" y="68.3" font-size="13">σ</text><text x="155.2" y="71.4" font-size="10.0">el</text><text x="155.2" y="62.1" font-size="10.0"><tspan class="it" font-size="11">L</tspan> = 0–2</text>
<text x="146.1" y="86.6" font-size="13">σ</text><text x="154.4" y="89.7" font-size="10.0">inel</text><text x="154.4" y="80.4" font-size="10.0"><tspan class="it" font-size="11">L</tspan> = 0–2</text>
<text x="187.6" y="103.8" font-size="12.85" text-anchor="end">H<tspan dy="3.9" font-size="10.4" class="it">d</tspan><tspan dy="-3.9"> + F</tspan><tspan dy="3.9" font-size="10.4" class="it">b</tspan><tspan dy="-3.9">/F</tspan><tspan dy="3.9" font-size="10.4" class="it">c</tspan></text>
<text x="187.4" y="311.2" font-size="12.85" text-anchor="end">H<tspan dy="3.9" font-size="10.4" class="it">a</tspan><tspan dy="-3.9"> + F</tspan><tspan dy="3.9" font-size="10.4" class="it">b</tspan><tspan dy="-3.9">/F</tspan><tspan dy="3.9" font-size="10.4" class="it">c</tspan></text>
<text x="187.4" y="329.7" font-size="12.85" text-anchor="end">H<tspan dy="3.9" font-size="10.4" class="it">d</tspan><tspan dy="-3.9"> + F</tspan><tspan dy="3.9" font-size="10.4" class="it">a</tspan></text>
<text x="187.4" y="348.8" font-size="12.85" text-anchor="end">H<tspan dy="3.9" font-size="10.4" class="it">d</tspan><tspan dy="-3.9"> + F</tspan><tspan dy="3.9" font-size="10.4" class="it">g</tspan></text>
<text x="187.4" y="367.3" font-size="12.85" text-anchor="end">H<tspan dy="3.9" font-size="10.4" class="it">a</tspan><tspan dy="-3.9"> + F</tspan><tspan dy="3.9" font-size="10.4" class="it">h</tspan></text>
<text x="187.4" y="386.2" font-size="12.85" text-anchor="end">H<tspan dy="3.9" font-size="10.4" class="it">c</tspan><tspan dy="-3.9"> + F</tspan><tspan dy="3.9" font-size="10.4" class="it">h</tspan></text>
<text x="187.8" y="405" font-size="12.85" text-anchor="end">’bad’ <tspan font-size="13.5">σ</tspan><tspan dy="3.5" font-size="10.0">inel</tspan></text>
<text x="82" y="53.1" font-size="12.85">(a)</text>
<text x="82" y="306.6" font-size="12.85">(b)</text>
<text x="85.5" y="139" font-size="12.85"><tspan class="it" font-size="13">B</tspan> = 1000 G</text>
<text x="85.5" y="186" font-size="12.85"><tspan class="it" font-size="13">B</tspan> = 1 G</text>
<text x="85.5" y="424" font-size="12.85"><tspan class="it" font-size="13">B</tspan> = 1000 G</text>
<text x="85.5" y="472.5" font-size="12.85"><tspan class="it" font-size="13">B</tspan> = 1 G</text>
<path d="M63.3 15.8 h4.4 M443.3 15.8 h-4.4" stroke="#000" stroke-width="0.9"/>
<path d="M63.3 39.16 h2.3 M443.3 39.16 h-2.3" stroke="#000" stroke-width="0.9"/>
<path d="M63.3 33.27 h2.3 M443.3 33.27 h-2.3" stroke="#000" stroke-width="0.9"/>
<path d="M63.3 29.1 h2.3 M443.3 29.1 h-2.3" stroke="#000" stroke-width="0.9"/>
<path d="M63.3 25.86 h2.3 M443.3 25.86 h-2.3" stroke="#000" stroke-width="0.9"/>
<path d="M63.3 23.21 h2.3 M443.3 23.21 h-2.3" stroke="#000" stroke-width="0.9"/>
<path d="M63.3 20.98 h2.3 M443.3 20.98 h-2.3" stroke="#000" stroke-width="0.9"/>
<path d="M63.3 19.04 h2.3 M443.3 19.04 h-2.3" stroke="#000" stroke-width="0.9"/>
<path d="M63.3 17.33 h2.3 M443.3 17.33 h-2.3" stroke="#000" stroke-width="0.9"/>
<path d="M63.3 49.21 h4.4 M443.3 49.21 h-4.4" stroke="#000" stroke-width="0.9"/>
<path d="M63.3 72.57 h2.3 M443.3 72.57 h-2.3" stroke="#000" stroke-width="0.9"/>
<path d="M63.3 66.69 h2.3 M443.3 66.69 h-2.3" stroke="#000" stroke-width="0.9"/>
<path d="M63.3 62.51 h2.3 M443.3 62.51 h-2.3" stroke="#000" stroke-width="0.9"/>
<path d="M63.3 59.27 h2.3 M443.3 59.27 h-2.3" stroke="#000" stroke-width="0.9"/>
<path d="M63.3 56.63 h2.3 M443.3 56.63 h-2.3" stroke="#000" stroke-width="0.9"/>
<path d="M63.3 54.39 h2.3 M443.3 54.39 h-2.3" stroke="#000" stroke-width="0.9"/>
<path d="M63.3 52.45 h2.3 M443.3 52.45 h-2.3" stroke="#000" stroke-width="0.9"/>
<path d="M63.3 50.74 h2.3 M443.3 50.74 h-2.3" stroke="#000" stroke-width="0.9"/>
<path d="M63.3 82.63 h4.4 M443.3 82.63 h-4.4" stroke="#000" stroke-width="0.9"/>
<path d="M63.3 105.98 h2.3 M443.3 105.98 h-2.3" stroke="#000" stroke-width="0.9"/>
<path d="M63.3 100.1 h2.3 M443.3 100.1 h-2.3" stroke="#000" stroke-width="0.9"/>
<path d="M63.3 95.93 h2.3 M443.3 95.93 h-2.3" stroke="#000" stroke-width="0.9"/>
<path d="M63.3 92.69 h2.3 M443.3 92.69 h-2.3" stroke="#000" stroke-width="0.9"/>
<path d="M63.3 90.04 h2.3 M443.3 90.04 h-2.3" stroke="#000" stroke-width="0.9"/>
<path d="M63.3 87.8 h2.3 M443.3 87.8 h-2.3" stroke="#000" stroke-width="0.9"/>
<path d="M63.3 85.87 h2.3 M443.3 85.87 h-2.3" stroke="#000" stroke-width="0.9"/>
<path d="M63.3 84.16 h2.3 M443.3 84.16 h-2.3" stroke="#000" stroke-width="0.9"/>
<path d="M63.3 116.04 h4.4 M443.3 116.04 h-4.4" stroke="#000" stroke-width="0.9"/>
<path d="M63.3 139.4 h2.3 M443.3 139.4 h-2.3" stroke="#000" stroke-width="0.9"/>
<path d="M63.3 133.51 h2.3 M443.3 133.51 h-2.3" stroke="#000" stroke-width="0.9"/>
<path d="M63.3 129.34 h2.3 M443.3 129.34 h-2.3" stroke="#000" stroke-width="0.9"/>
<path d="M63.3 126.1 h2.3 M443.3 126.1 h-2.3" stroke="#000" stroke-width="0.9"/>
<path d="M63.3 123.46 h2.3 M443.3 123.46 h-2.3" stroke="#000" stroke-width="0.9"/>
<path d="M63.3 121.22 h2.3 M443.3 121.22 h-2.3" stroke="#000" stroke-width="0.9"/>
<path d="M63.3 119.28 h2.3 M443.3 119.28 h-2.3" stroke="#000" stroke-width="0.9"/>
<path d="M63.3 117.57 h2.3 M443.3 117.57 h-2.3" stroke="#000" stroke-width="0.9"/>
<path d="M63.3 149.46 h4.4 M443.3 149.46 h-4.4" stroke="#000" stroke-width="0.9"/>
<path d="M63.3 172.81 h2.3 M443.3 172.81 h-2.3" stroke="#000" stroke-width="0.9"/>
<path d="M63.3 166.93 h2.3 M443.3 166.93 h-2.3" stroke="#000" stroke-width="0.9"/>
<path d="M63.3 162.75 h2.3 M443.3 162.75 h-2.3" stroke="#000" stroke-width="0.9"/>
<path d="M63.3 159.52 h2.3 M443.3 159.52 h-2.3" stroke="#000" stroke-width="0.9"/>
<path d="M63.3 156.87 h2.3 M443.3 156.87 h-2.3" stroke="#000" stroke-width="0.9"/>
<path d="M63.3 154.63 h2.3 M443.3 154.63 h-2.3" stroke="#000" stroke-width="0.9"/>
<path d="M63.3 152.7 h2.3 M443.3 152.7 h-2.3" stroke="#000" stroke-width="0.9"/>
<path d="M63.3 150.99 h2.3 M443.3 150.99 h-2.3" stroke="#000" stroke-width="0.9"/>
<path d="M63.3 182.87 h4.4 M443.3 182.87 h-4.4" stroke="#000" stroke-width="0.9"/>
<path d="M63.3 206.23 h2.3 M443.3 206.23 h-2.3" stroke="#000" stroke-width="0.9"/>
<path d="M63.3 200.34 h2.3 M443.3 200.34 h-2.3" stroke="#000" stroke-width="0.9"/>
<path d="M63.3 196.17 h2.3 M443.3 196.17 h-2.3" stroke="#000" stroke-width="0.9"/>
<path d="M63.3 192.93 h2.3 M443.3 192.93 h-2.3" stroke="#000" stroke-width="0.9"/>
<path d="M63.3 190.28 h2.3 M443.3 190.28 h-2.3" stroke="#000" stroke-width="0.9"/>
<path d="M63.3 188.05 h2.3 M443.3 188.05 h-2.3" stroke="#000" stroke-width="0.9"/>
<path d="M63.3 186.11 h2.3 M443.3 186.11 h-2.3" stroke="#000" stroke-width="0.9"/>
<path d="M63.3 184.4 h2.3 M443.3 184.4 h-2.3" stroke="#000" stroke-width="0.9"/>
<path d="M63.3 216.29 h4.4 M443.3 216.29 h-4.4" stroke="#000" stroke-width="0.9"/>
<path d="M63.3 239.64 h2.3 M443.3 239.64 h-2.3" stroke="#000" stroke-width="0.9"/>
<path d="M63.3 233.76 h2.3 M443.3 233.76 h-2.3" stroke="#000" stroke-width="0.9"/>
<path d="M63.3 229.58 h2.3 M443.3 229.58 h-2.3" stroke="#000" stroke-width="0.9"/>
<path d="M63.3 226.34 h2.3 M443.3 226.34 h-2.3" stroke="#000" stroke-width="0.9"/>
<path d="M63.3 223.7 h2.3 M443.3 223.7 h-2.3" stroke="#000" stroke-width="0.9"/>
<path d="M63.3 221.46 h2.3 M443.3 221.46 h-2.3" stroke="#000" stroke-width="0.9"/>
<path d="M63.3 219.52 h2.3 M443.3 219.52 h-2.3" stroke="#000" stroke-width="0.9"/>
<path d="M63.3 217.81 h2.3 M443.3 217.81 h-2.3" stroke="#000" stroke-width="0.9"/>
<path d="M63.3 249.7 h4.4 M443.3 249.7 h-4.4" stroke="#000" stroke-width="0.9"/>
<path d="M69.32 15.8 v2.3 M69.32 249.7 v-2.3" stroke="#000" stroke-width="0.9"/>
<path d="M74.41 15.8 v2.3 M74.41 249.7 v-2.3" stroke="#000" stroke-width="0.9"/>
<path d="M78.81 15.8 v2.3 M78.81 249.7 v-2.3" stroke="#000" stroke-width="0.9"/>
<path d="M82.7 15.8 v2.3 M82.7 249.7 v-2.3" stroke="#000" stroke-width="0.9"/>
<path d="M86.18 15.8 v4.4 M86.18 249.7 v-4.4" stroke="#000" stroke-width="0.9"/>
<path d="M109.06 15.8 v2.3 M109.06 249.7 v-2.3" stroke="#000" stroke-width="0.9"/>
<path d="M122.44 15.8 v2.3 M122.44 249.7 v-2.3" stroke="#000" stroke-width="0.9"/>
<path d="M131.93 15.8 v2.3 M131.93 249.7 v-2.3" stroke="#000" stroke-width="0.9"/>
<path d="M139.3 15.8 v2.3 M139.3 249.7 v-2.3" stroke="#000" stroke-width="0.9"/>
<path d="M145.32 15.8 v2.3 M145.32 249.7 v-2.3" stroke="#000" stroke-width="0.9"/>
<path d="M150.41 15.8 v2.3 M150.41 249.7 v-2.3" stroke="#000" stroke-width="0.9"/>
<path d="M154.81 15.8 v2.3 M154.81 249.7 v-2.3" stroke="#000" stroke-width="0.9"/>
<path d="M158.7 15.8 v2.3 M158.7 249.7 v-2.3" stroke="#000" stroke-width="0.9"/>
<path d="M162.18 15.8 v4.4 M162.18 249.7 v-4.4" stroke="#000" stroke-width="0.9"/>
<path d="M185.06 15.8 v2.3 M185.06 249.7 v-2.3" stroke="#000" stroke-width="0.9"/>
<path d="M198.44 15.8 v2.3 M198.44 249.7 v-2.3" stroke="#000" stroke-width="0.9"/>
<path d="M207.93 15.8 v2.3 M207.93 249.7 v-2.3" stroke="#000" stroke-width="0.9"/>
<path d="M215.3 15.8 v2.3 M215.3 249.7 v-2.3" stroke="#000" stroke-width="0.9"/>
<path d="M221.32 15.8 v2.3 M221.32 249.7 v-2.3" stroke="#000" stroke-width="0.9"/>
<path d="M226.41 15.8 v2.3 M226.41 249.7 v-2.3" stroke="#000" stroke-width="0.9"/>
<path d="M230.81 15.8 v2.3 M230.81 249.7 v-2.3" stroke="#000" stroke-width="0.9"/>
<path d="M234.7 15.8 v2.3 M234.7 249.7 v-2.3" stroke="#000" stroke-width="0.9"/>
<path d="M238.18 15.8 v4.4 M238.18 249.7 v-4.4" stroke="#000" stroke-width="0.9"/>
<path d="M261.06 15.8 v2.3 M261.06 249.7 v-2.3" stroke="#000" stroke-width="0.9"/>
<path d="M274.44 15.8 v2.3 M274.44 249.7 v-2.3" stroke="#000" stroke-width="0.9"/>
<path d="M283.93 15.8 v2.3 M283.93 249.7 v-2.3" stroke="#000" stroke-width="0.9"/>
<path d="M291.3 15.8 v2.3 M291.3 249.7 v-2.3" stroke="#000" stroke-width="0.9"/>
<path d="M297.32 15.8 v2.3 M297.32 249.7 v-2.3" stroke="#000" stroke-width="0.9"/>
<path d="M302.41 15.8 v2.3 M302.41 249.7 v-2.3" stroke="#000" stroke-width="0.9"/>
<path d="M306.81 15.8 v2.3 M306.81 249.7 v-2.3" stroke="#000" stroke-width="0.9"/>
<path d="M310.7 15.8 v2.3 M310.7 249.7 v-2.3" stroke="#000" stroke-width="0.9"/>
<path d="M314.18 15.8 v4.4 M314.18 249.7 v-4.4" stroke="#000" stroke-width="0.9"/>
<path d="M337.06 15.8 v2.3 M337.06 249.7 v-2.3" stroke="#000" stroke-width="0.9"/>
<path d="M350.44 15.8 v2.3 M350.44 249.7 v-2.3" stroke="#000" stroke-width="0.9"/>
<path d="M359.93 15.8 v2.3 M359.93 249.7 v-2.3" stroke="#000" stroke-width="0.9"/>
<path d="M367.3 15.8 v2.3 M367.3 249.7 v-2.3" stroke="#000" stroke-width="0.9"/>
<path d="M373.32 15.8 v2.3 M373.32 249.7 v-2.3" stroke="#000" stroke-width="0.9"/>
<path d="M378.41 15.8 v2.3 M378.41 249.7 v-2.3" stroke="#000" stroke-width="0.9"/>
<path d="M382.81 15.8 v2.3 M382.81 249.7 v-2.3" stroke="#000" stroke-width="0.9"/>
<path d="M386.7 15.8 v2.3 M386.7 249.7 v-2.3" stroke="#000" stroke-width="0.9"/>
<path d="M390.18 15.8 v4.4 M390.18 249.7 v-4.4" stroke="#000" stroke-width="0.9"/>
<path d="M413.06 15.8 v2.3 M413.06 249.7 v-2.3" stroke="#000" stroke-width="0.9"/>
<path d="M426.44 15.8 v2.3 M426.44 249.7 v-2.3" stroke="#000" stroke-width="0.9"/>
<path d="M435.93 15.8 v2.3 M435.93 249.7 v-2.3" stroke="#000" stroke-width="0.9"/>
<rect x="63.3" y="15.8" width="380" height="233.9" fill="none" stroke="#000" stroke-width="1.4"/>
<text x="55.5" y="21.2" font-size="12.85" text-anchor="end">10<tspan dy="-6.3" font-size="10.6">4</tspan></text>
<text x="55.5" y="54.61" font-size="12.85" text-anchor="end">10<tspan dy="-6.3" font-size="10.6">3</tspan></text>
<text x="55.5" y="88.03" font-size="12.85" text-anchor="end">10<tspan dy="-6.3" font-size="10.6">2</tspan></text>
<text x="55.5" y="121.44" font-size="12.85" text-anchor="end">10<tspan dy="-6.3" font-size="10.6">1</tspan></text>
<text x="55.5" y="154.86" font-size="12.85" text-anchor="end">10<tspan dy="-6.3" font-size="10.6">0</tspan></text>
<text x="55.5" y="188.27" font-size="12.85" text-anchor="end">10<tspan dy="-6.3" font-size="10.6">−1</tspan></text>
<text x="55.5" y="221.69" font-size="12.85" text-anchor="end">10<tspan dy="-6.3" font-size="10.6">−2</tspan></text>
<text x="55.5" y="255.1" font-size="12.85" text-anchor="end">10<tspan dy="-6.3" font-size="10.6">−3</tspan></text>
<path d="M63.3 269.7 h4.4 M443.3 269.7 h-4.4" stroke="#000" stroke-width="0.9"/>
<path d="M63.3 293 h2.3 M443.3 293 h-2.3" stroke="#000" stroke-width="0.9"/>
<path d="M63.3 287.13 h2.3 M443.3 287.13 h-2.3" stroke="#000" stroke-width="0.9"/>
<path d="M63.3 282.96 h2.3 M443.3 282.96 h-2.3" stroke="#000" stroke-width="0.9"/>
<path d="M63.3 279.73 h2.3 M443.3 279.73 h-2.3" stroke="#000" stroke-width="0.9"/>
<path d="M63.3 277.09 h2.3 M443.3 277.09 h-2.3" stroke="#000" stroke-width="0.9"/>
<path d="M63.3 274.86 h2.3 M443.3 274.86 h-2.3" stroke="#000" stroke-width="0.9"/>
<path d="M63.3 272.93 h2.3 M443.3 272.93 h-2.3" stroke="#000" stroke-width="0.9"/>
<path d="M63.3 271.23 h2.3 M443.3 271.23 h-2.3" stroke="#000" stroke-width="0.9"/>
<path d="M63.3 303.03 h4.4 M443.3 303.03 h-4.4" stroke="#000" stroke-width="0.9"/>
<path d="M63.3 326.32 h2.3 M443.3 326.32 h-2.3" stroke="#000" stroke-width="0.9"/>
<path d="M63.3 320.46 h2.3 M443.3 320.46 h-2.3" stroke="#000" stroke-width="0.9"/>
<path d="M63.3 316.29 h2.3 M443.3 316.29 h-2.3" stroke="#000" stroke-width="0.9"/>
<path d="M63.3 313.06 h2.3 M443.3 313.06 h-2.3" stroke="#000" stroke-width="0.9"/>
<path d="M63.3 310.42 h2.3 M443.3 310.42 h-2.3" stroke="#000" stroke-width="0.9"/>
<path d="M63.3 308.19 h2.3 M443.3 308.19 h-2.3" stroke="#000" stroke-width="0.9"/>
<path d="M63.3 306.26 h2.3 M443.3 306.26 h-2.3" stroke="#000" stroke-width="0.9"/>
<path d="M63.3 304.55 h2.3 M443.3 304.55 h-2.3" stroke="#000" stroke-width="0.9"/>
<path d="M63.3 336.36 h4.4 M443.3 336.36 h-4.4" stroke="#000" stroke-width="0.9"/>
<path d="M63.3 359.65 h2.3 M443.3 359.65 h-2.3" stroke="#000" stroke-width="0.9"/>
<path d="M63.3 353.78 h2.3 M443.3 353.78 h-2.3" stroke="#000" stroke-width="0.9"/>
<path d="M63.3 349.62 h2.3 M443.3 349.62 h-2.3" stroke="#000" stroke-width="0.9"/>
<path d="M63.3 346.39 h2.3 M443.3 346.39 h-2.3" stroke="#000" stroke-width="0.9"/>
<path d="M63.3 343.75 h2.3 M443.3 343.75 h-2.3" stroke="#000" stroke-width="0.9"/>
<path d="M63.3 341.52 h2.3 M443.3 341.52 h-2.3" stroke="#000" stroke-width="0.9"/>
<path d="M63.3 339.59 h2.3 M443.3 339.59 h-2.3" stroke="#000" stroke-width="0.9"/>
<path d="M63.3 337.88 h2.3 M443.3 337.88 h-2.3" stroke="#000" stroke-width="0.9"/>
<path d="M63.3 369.69 h4.4 M443.3 369.69 h-4.4" stroke="#000" stroke-width="0.9"/>
<path d="M63.3 392.98 h2.3 M443.3 392.98 h-2.3" stroke="#000" stroke-width="0.9"/>
<path d="M63.3 387.11 h2.3 M443.3 387.11 h-2.3" stroke="#000" stroke-width="0.9"/>
<path d="M63.3 382.95 h2.3 M443.3 382.95 h-2.3" stroke="#000" stroke-width="0.9"/>
<path d="M63.3 379.72 h2.3 M443.3 379.72 h-2.3" stroke="#000" stroke-width="0.9"/>
<path d="M63.3 377.08 h2.3 M443.3 377.08 h-2.3" stroke="#000" stroke-width="0.9"/>
<path d="M63.3 374.85 h2.3 M443.3 374.85 h-2.3" stroke="#000" stroke-width="0.9"/>
<path d="M63.3 372.92 h2.3 M443.3 372.92 h-2.3" stroke="#000" stroke-width="0.9"/>
<path d="M63.3 371.21 h2.3 M443.3 371.21 h-2.3" stroke="#000" stroke-width="0.9"/>
<path d="M63.3 403.01 h4.4 M443.3 403.01 h-4.4" stroke="#000" stroke-width="0.9"/>
<path d="M63.3 426.31 h2.3 M443.3 426.31 h-2.3" stroke="#000" stroke-width="0.9"/>
<path d="M63.3 420.44 h2.3 M443.3 420.44 h-2.3" stroke="#000" stroke-width="0.9"/>
<path d="M63.3 416.28 h2.3 M443.3 416.28 h-2.3" stroke="#000" stroke-width="0.9"/>
<path d="M63.3 413.05 h2.3 M443.3 413.05 h-2.3" stroke="#000" stroke-width="0.9"/>
<path d="M63.3 410.41 h2.3 M443.3 410.41 h-2.3" stroke="#000" stroke-width="0.9"/>
<path d="M63.3 408.18 h2.3 M443.3 408.18 h-2.3" stroke="#000" stroke-width="0.9"/>
<path d="M63.3 406.24 h2.3 M443.3 406.24 h-2.3" stroke="#000" stroke-width="0.9"/>
<path d="M63.3 404.54 h2.3 M443.3 404.54 h-2.3" stroke="#000" stroke-width="0.9"/>
<path d="M63.3 436.34 h4.4 M443.3 436.34 h-4.4" stroke="#000" stroke-width="0.9"/>
<path d="M63.3 459.64 h2.3 M443.3 459.64 h-2.3" stroke="#000" stroke-width="0.9"/>
<path d="M63.3 453.77 h2.3 M443.3 453.77 h-2.3" stroke="#000" stroke-width="0.9"/>
<path d="M63.3 449.61 h2.3 M443.3 449.61 h-2.3" stroke="#000" stroke-width="0.9"/>
<path d="M63.3 446.38 h2.3 M443.3 446.38 h-2.3" stroke="#000" stroke-width="0.9"/>
<path d="M63.3 443.74 h2.3 M443.3 443.74 h-2.3" stroke="#000" stroke-width="0.9"/>
<path d="M63.3 441.51 h2.3 M443.3 441.51 h-2.3" stroke="#000" stroke-width="0.9"/>
<path d="M63.3 439.57 h2.3 M443.3 439.57 h-2.3" stroke="#000" stroke-width="0.9"/>
<path d="M63.3 437.87 h2.3 M443.3 437.87 h-2.3" stroke="#000" stroke-width="0.9"/>
<path d="M63.3 469.67 h4.4 M443.3 469.67 h-4.4" stroke="#000" stroke-width="0.9"/>
<path d="M63.3 492.97 h2.3 M443.3 492.97 h-2.3" stroke="#000" stroke-width="0.9"/>
<path d="M63.3 487.1 h2.3 M443.3 487.1 h-2.3" stroke="#000" stroke-width="0.9"/>
<path d="M63.3 482.93 h2.3 M443.3 482.93 h-2.3" stroke="#000" stroke-width="0.9"/>
<path d="M63.3 479.7 h2.3 M443.3 479.7 h-2.3" stroke="#000" stroke-width="0.9"/>
<path d="M63.3 477.07 h2.3 M443.3 477.07 h-2.3" stroke="#000" stroke-width="0.9"/>
<path d="M63.3 474.83 h2.3 M443.3 474.83 h-2.3" stroke="#000" stroke-width="0.9"/>
<path d="M63.3 472.9 h2.3 M443.3 472.9 h-2.3" stroke="#000" stroke-width="0.9"/>
<path d="M63.3 471.2 h2.3 M443.3 471.2 h-2.3" stroke="#000" stroke-width="0.9"/>
<path d="M63.3 503 h4.4 M443.3 503 h-4.4" stroke="#000" stroke-width="0.9"/>
<path d="M69.32 269.7 v2.3 M69.32 503 v-2.3" stroke="#000" stroke-width="0.9"/>
<path d="M74.41 269.7 v2.3 M74.41 503 v-2.3" stroke="#000" stroke-width="0.9"/>
<path d="M78.81 269.7 v2.3 M78.81 503 v-2.3" stroke="#000" stroke-width="0.9"/>
<path d="M82.7 269.7 v2.3 M82.7 503 v-2.3" stroke="#000" stroke-width="0.9"/>
<path d="M86.18 269.7 v4.4 M86.18 503 v-4.4" stroke="#000" stroke-width="0.9"/>
<path d="M109.06 269.7 v2.3 M109.06 503 v-2.3" stroke="#000" stroke-width="0.9"/>
<path d="M122.44 269.7 v2.3 M122.44 503 v-2.3" stroke="#000" stroke-width="0.9"/>
<path d="M131.93 269.7 v2.3 M131.93 503 v-2.3" stroke="#000" stroke-width="0.9"/>
<path d="M139.3 269.7 v2.3 M139.3 503 v-2.3" stroke="#000" stroke-width="0.9"/>
<path d="M145.32 269.7 v2.3 M145.32 503 v-2.3" stroke="#000" stroke-width="0.9"/>
<path d="M150.41 269.7 v2.3 M150.41 503 v-2.3" stroke="#000" stroke-width="0.9"/>
<path d="M154.81 269.7 v2.3 M154.81 503 v-2.3" stroke="#000" stroke-width="0.9"/>
<path d="M158.7 269.7 v2.3 M158.7 503 v-2.3" stroke="#000" stroke-width="0.9"/>
<path d="M162.18 269.7 v4.4 M162.18 503 v-4.4" stroke="#000" stroke-width="0.9"/>
<path d="M185.06 269.7 v2.3 M185.06 503 v-2.3" stroke="#000" stroke-width="0.9"/>
<path d="M198.44 269.7 v2.3 M198.44 503 v-2.3" stroke="#000" stroke-width="0.9"/>
<path d="M207.93 269.7 v2.3 M207.93 503 v-2.3" stroke="#000" stroke-width="0.9"/>
<path d="M215.3 269.7 v2.3 M215.3 503 v-2.3" stroke="#000" stroke-width="0.9"/>
<path d="M221.32 269.7 v2.3 M221.32 503 v-2.3" stroke="#000" stroke-width="0.9"/>
<path d="M226.41 269.7 v2.3 M226.41 503 v-2.3" stroke="#000" stroke-width="0.9"/>
<path d="M230.81 269.7 v2.3 M230.81 503 v-2.3" stroke="#000" stroke-width="0.9"/>
<path d="M234.7 269.7 v2.3 M234.7 503 v-2.3" stroke="#000" stroke-width="0.9"/>
<path d="M238.18 269.7 v4.4 M238.18 503 v-4.4" stroke="#000" stroke-width="0.9"/>
<path d="M261.06 269.7 v2.3 M261.06 503 v-2.3" stroke="#000" stroke-width="0.9"/>
<path d="M274.44 269.7 v2.3 M274.44 503 v-2.3" stroke="#000" stroke-width="0.9"/>
<path d="M283.93 269.7 v2.3 M283.93 503 v-2.3" stroke="#000" stroke-width="0.9"/>
<path d="M291.3 269.7 v2.3 M291.3 503 v-2.3" stroke="#000" stroke-width="0.9"/>
<path d="M297.32 269.7 v2.3 M297.32 503 v-2.3" stroke="#000" stroke-width="0.9"/>
<path d="M302.41 269.7 v2.3 M302.41 503 v-2.3" stroke="#000" stroke-width="0.9"/>
<path d="M306.81 269.7 v2.3 M306.81 503 v-2.3" stroke="#000" stroke-width="0.9"/>
<path d="M310.7 269.7 v2.3 M310.7 503 v-2.3" stroke="#000" stroke-width="0.9"/>
<path d="M314.18 269.7 v4.4 M314.18 503 v-4.4" stroke="#000" stroke-width="0.9"/>
<path d="M337.06 269.7 v2.3 M337.06 503 v-2.3" stroke="#000" stroke-width="0.9"/>
<path d="M350.44 269.7 v2.3 M350.44 503 v-2.3" stroke="#000" stroke-width="0.9"/>
<path d="M359.93 269.7 v2.3 M359.93 503 v-2.3" stroke="#000" stroke-width="0.9"/>
<path d="M367.3 269.7 v2.3 M367.3 503 v-2.3" stroke="#000" stroke-width="0.9"/>
<path d="M373.32 269.7 v2.3 M373.32 503 v-2.3" stroke="#000" stroke-width="0.9"/>
<path d="M378.41 269.7 v2.3 M378.41 503 v-2.3" stroke="#000" stroke-width="0.9"/>
<path d="M382.81 269.7 v2.3 M382.81 503 v-2.3" stroke="#000" stroke-width="0.9"/>
<path d="M386.7 269.7 v2.3 M386.7 503 v-2.3" stroke="#000" stroke-width="0.9"/>
<path d="M390.18 269.7 v4.4 M390.18 503 v-4.4" stroke="#000" stroke-width="0.9"/>
<path d="M413.06 269.7 v2.3 M413.06 503 v-2.3" stroke="#000" stroke-width="0.9"/>
<path d="M426.44 269.7 v2.3 M426.44 503 v-2.3" stroke="#000" stroke-width="0.9"/>
<path d="M435.93 269.7 v2.3 M435.93 503 v-2.3" stroke="#000" stroke-width="0.9"/>
<rect x="63.3" y="269.7" width="380" height="233.3" fill="none" stroke="#000" stroke-width="1.4"/>
<text x="55.5" y="275.1" font-size="12.85" text-anchor="end">10<tspan dy="-6.3" font-size="10.6">4</tspan></text>
<text x="55.5" y="308.43" font-size="12.85" text-anchor="end">10<tspan dy="-6.3" font-size="10.6">3</tspan></text>
<text x="55.5" y="341.76" font-size="12.85" text-anchor="end">10<tspan dy="-6.3" font-size="10.6">2</tspan></text>
<text x="55.5" y="375.09" font-size="12.85" text-anchor="end">10<tspan dy="-6.3" font-size="10.6">1</tspan></text>
<text x="55.5" y="408.41" font-size="12.85" text-anchor="end">10<tspan dy="-6.3" font-size="10.6">0</tspan></text>
<text x="55.5" y="441.74" font-size="12.85" text-anchor="end">10<tspan dy="-6.3" font-size="10.6">−1</tspan></text>
<text x="55.5" y="475.07" font-size="12.85" text-anchor="end">10<tspan dy="-6.3" font-size="10.6">−2</tspan></text>
<text x="55.5" y="508.4" font-size="12.85" text-anchor="end">10<tspan dy="-6.3" font-size="10.6">−3</tspan></text>
<text x="86.88" y="521.2" font-size="12.85" text-anchor="middle">10<tspan dy="-6.3" font-size="10.6">−4</tspan></text>
<text x="162.88" y="521.2" font-size="12.85" text-anchor="middle">10<tspan dy="-6.3" font-size="10.6">−3</tspan></text>
<text x="238.88" y="521.2" font-size="12.85" text-anchor="middle">10<tspan dy="-6.3" font-size="10.6">−2</tspan></text>
<text x="314.88" y="521.2" font-size="12.85" text-anchor="middle">10<tspan dy="-6.3" font-size="10.6">−1</tspan></text>
<text x="390.88" y="521.2" font-size="12.85" text-anchor="middle">10<tspan dy="-6.3" font-size="10.6">0</tspan></text>
<text x="253.3" y="537.6" font-size="12.85" text-anchor="middle">Collision energy <tspan class="it" font-size="12.5">E</tspan>/<tspan class="it" font-size="12.5">k</tspan><tspan dy="3" font-size="10.0">B</tspan><tspan dy="-3"> (K)</tspan></text>
<text transform="translate(22.9 132.75) rotate(-90)" font-size="12.85" text-anchor="middle">Cross section <tspan font-size="13.5">σ</tspan> (Å<tspan dy="-5" font-size="10.0">2</tspan><tspan dy="5">)</tspan></text>
<text transform="translate(22.9 386.35) rotate(-90)" font-size="12.85" text-anchor="middle">Cross section <tspan font-size="13.5">σ</tspan> (Å<tspan dy="-5" font-size="10.0">2</tspan><tspan dy="5">)</tspan></text>
</svg></body></html>
